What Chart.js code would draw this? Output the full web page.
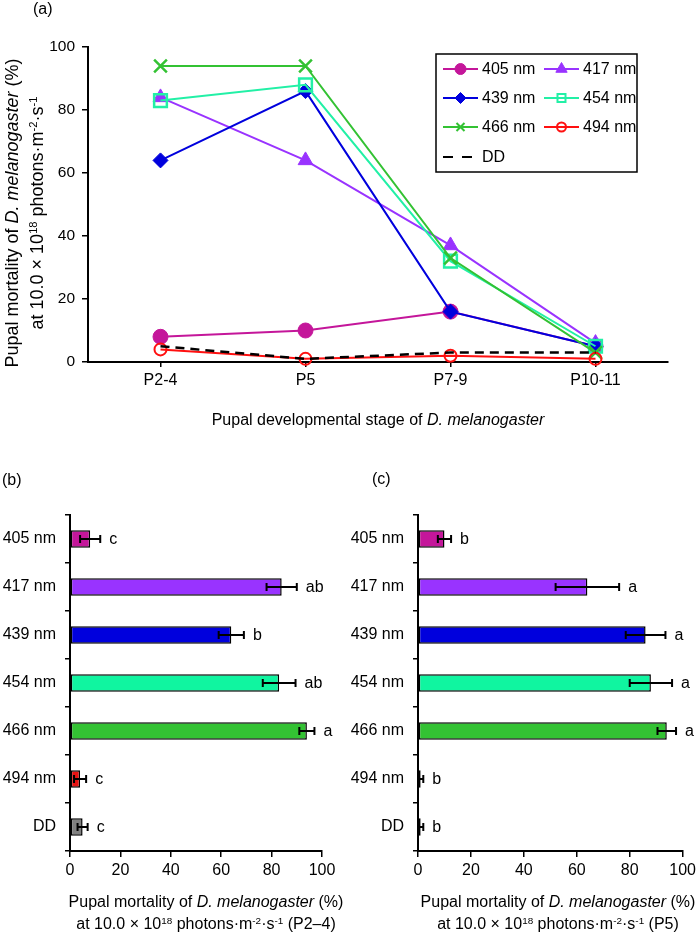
<!DOCTYPE html>
<html>
<head>
<meta charset="utf-8">
<script src="https://cdn.jsdelivr.net/npm/chart.js@4/dist/chart.umd.min.js"></script>
<style>
  body { margin: 0; background: #fff; font-family: 'Liberation Sans', Arial, sans-serif; color: #000; }
  #page { position: relative; width: 700px; height: 935px; overflow: hidden; }
  canvas { position: absolute; }
  .txt { position: absolute; font-size: 16px; line-height: 18px; white-space: nowrap; }
  .ttl { position: absolute; text-align: center; white-space: nowrap; font-size: 16px; }
  sup { font-size: 0.62em; line-height: 0; vertical-align: 0.5em; }
</style>
</head>
<body>
<div id="page">
  <canvas id="chartA" width="700" height="420" style="left:0;top:0"></canvas>
  <canvas id="chartB" width="350" height="515" style="left:0;top:420px"></canvas>
  <canvas id="chartC" width="350" height="515" style="left:350px;top:420px"></canvas>

  <div class="txt" style="left:33px;top:0">(a)</div>
  <div class="txt" style="left:2px;top:471px">(b)</div>
  <div class="txt" style="left:372px;top:470px">(c)</div>

  <div class="ttl" style="left:-135px;top:188px;width:320px;height:50px;font-size:18px;line-height:25px;transform:rotate(-90deg)">
    Pupal mortality of <i>D. melanogaster</i> (%)<br>at 10.0 × 10<sup>18</sup> photons·m<sup>-2</sup>·s<sup>-1</sup>
  </div>
  <div class="ttl" style="left:78px;top:410px;width:600px;line-height:20px">
    Pupal developmental stage of <i>D. melanogaster</i>
  </div>
  <div class="ttl" style="left:36px;top:891px;width:340px;line-height:22px">
    Pupal mortality of <i>D. melanogaster</i> (%)<br>at 10.0 × 10<sup>18</sup> photons·m<sup>-2</sup>·s<sup>-1</sup> (P2–4)
  </div>
  <div class="ttl" style="left:388px;top:891px;width:340px;line-height:22px">
    Pupal mortality of <i>D. melanogaster</i> (%)<br>at 10.0 × 10<sup>18</sup> photons·m<sup>-2</sup>·s<sup>-1</sup> (P5)
  </div>
</div>

<script>
// ---- data ----
const stages = ['P2-4', 'P5', 'P7-9', 'P10-11'];
const mort405 = [8, 10, 16, 5];
const mort417 = [84, 64, 37, 6];
const mort439 = [64, 86, 16, 5];
const mort454 = [83, 88, 32, 5];
const mort466 = [94, 94, 33, 3];
const mort494 = [4, 1, 2, 1];
const mortDD = [5, 1, 3, 3];

const treatments = ['405 nm', '417 nm', '439 nm', '454 nm', '466 nm', '494 nm', 'DD'];
const mortP24 = [8, 84, 64, 83, 94, 4, 5];
const errP24 = [4, 6, 5, 6.5, 3, 2.4, 2];
const lettersP24 = ['c', 'ab', 'b', 'ab', 'a', 'c', 'c'];
const mortP5 = [10, 64, 86, 88, 94, 1, 1];
const errP5 = [2.5, 12, 7.5, 8, 3.5, 1, 1];
const lettersP5 = ['b', 'a', 'a', 'a', 'a', 'b', 'b'];

// colours
const C405 = '#C4169A';
const C417 = '#9933FF';
const C439 = '#0000DD';
const C454 = '#22F0A6';
const C466 = '#33C233';
const C494 = '#FF1010';
const barColors = [C405, C417, C439, '#10F5A0', C466, '#E81212', '#808080'];

Chart.defaults.font.family = "'Liberation Sans', Arial, sans-serif";
Chart.defaults.font.size = 16;
Chart.defaults.color = '#000';

// simple marker drawer for the legend box
function drawMarker(ctx, style, x, y, r, fill, stroke, lw) {
    ctx.save();
    ctx.beginPath();
    ctx.lineWidth = lw;
    ctx.strokeStyle = stroke;
    ctx.fillStyle = fill;
    if (style === 'circle') {
        ctx.arc(x, y, r, 0, Math.PI * 2);
    } else if (style === 'triangle') {
        ctx.moveTo(x, y - r);
        ctx.lineTo(x + r * 0.87, y + r * 0.5);
        ctx.lineTo(x - r * 0.87, y + r * 0.5);
        ctx.closePath();
    } else if (style === 'rectRot') {
        ctx.moveTo(x, y - r);
        ctx.lineTo(x + r, y);
        ctx.lineTo(x, y + r);
        ctx.lineTo(x - r, y);
        ctx.closePath();
    } else if (style === 'rect') {
        ctx.rect(x - r, y - r, 2 * r, 2 * r);
    } else if (style === 'crossRot') {
        ctx.moveTo(x - r, y - r); ctx.lineTo(x + r, y + r);
        ctx.moveTo(x + r, y - r); ctx.lineTo(x - r, y + r);
    }
    if (fill) ctx.fill();
    ctx.stroke();
    ctx.restore();
}

const boxLegend = {
    id: 'boxLegend',
    afterDraw(chart) {
        const ctx = chart.ctx;
        ctx.save();
        ctx.lineWidth = 1.5;
        ctx.strokeStyle = '#000';
        ctx.strokeRect(436, 54, 201, 118);
        ctx.font = "16px 'Liberation Sans', Arial, sans-serif";
        ctx.fillStyle = '#000';
        ctx.textBaseline = 'middle';
        const legendMarks = [
            ['circle', 5.5, true, 1], ['triangle', 6.5, true, 1],
            ['rectRot', 5.5, true, 1], ['rect', 4, false, 2],
            ['crossRot', 4, false, 2], ['circle', 4.5, false, 2]
        ];
        const rows = [69, 98, 127, 157];
        chart.data.datasets.forEach((ds, i) => {
            const col = i === 6 ? 0 : i % 2;
            const row = i === 6 ? 3 : Math.floor(i / 2);
            const x0 = col === 0 ? 443 : 544;
            const y = rows[row];
            ctx.save();
            ctx.strokeStyle = ds.borderColor;
            ctx.lineWidth = 2;
            if (ds.borderDash) ctx.setLineDash([10, 9]);
            ctx.beginPath();
            ctx.moveTo(x0, y);
            ctx.lineTo(x0 + 35, y);
            ctx.stroke();
            ctx.restore();
            if (legendMarks[i]) {
                const m = legendMarks[i];
                drawMarker(ctx, m[0], x0 + 17.5, y, m[1], m[2] ? ds.borderColor : null, ds.borderColor, m[3]);
            }
            ctx.fillStyle = '#000';
            ctx.fillText(ds.label, x0 + (i === 6 ? 39 : 39), y + 1);
        });
        ctx.restore();
    }
};

function lineSet(label, data, color, style, radius, hollow, pbw) {
    return {
        label: label,
        data: data,
        borderColor: color,
        backgroundColor: hollow ? 'rgba(0,0,0,0)' : color,
        borderWidth: 2,
        pointStyle: style,
        pointRadius: radius,
        pointBorderWidth: pbw,
        pointBorderColor: color,
        pointBackgroundColor: hollow ? 'rgba(0,0,0,0)' : color,
        tension: 0,
        clip: false
    };
}

const datasetsA = [
    lineSet('405 nm', mort405, C405, 'circle', 7.5, false, 1),
    lineSet('417 nm', mort417, C417, 'triangle', 8.5, false, 1),
    lineSet('439 nm', mort439, C439, 'rectRot', 7.5, false, 1),
    lineSet('454 nm', mort454, C454, 'rect', 9, true, 2.5),
    lineSet('466 nm', mort466, C466, 'crossRot', 9, true, 2.5),
    lineSet('494 nm', mort494, C494, 'circle', 6, true, 2),
    Object.assign(lineSet('DD', mortDD, '#000', 'circle', 0, true, 0), { borderDash: [9, 6], borderWidth: 2.5 })
];
// later series drawn on top, like the original
datasetsA.forEach((ds, i) => { ds.order = datasetsA.length - i; });

new Chart(document.getElementById('chartA'), {
    type: 'line',
    data: { labels: stages, datasets: datasetsA },
    options: {
        responsive: false,
        animation: false,
        layout: { padding: { top: 47, right: 32, left: 0, bottom: 0 } },
        plugins: { legend: { display: false }, tooltip: { enabled: false } },
        scales: {
            x: {
                offset: true,
                grid: { offset: false, drawOnChartArea: false, color: '#000', lineWidth: 1.5, tickLength: 5 },
                border: { color: '#000', width: 2 },
                ticks: { padding: 4, font: { size: 16 } },
                afterFit(scale) { scale.height = 58; }
            },
            y: {
                min: 0, max: 100,
                grid: { drawOnChartArea: false, color: '#000', lineWidth: 1.5, tickLength: 6 },
                border: { color: '#000', width: 2 },
                ticks: { stepSize: 20, padding: 7, font: { size: 15.5 } },
                afterFit(scale) { scale.width = 88; }
            }
        }
    },
    plugins: [boxLegend]
});

function makeErrorBars(errors, letters) {
    return {
        id: 'errorBars',
        afterDatasetsDraw(chart) {
            const ctx = chart.ctx;
            const xs = chart.scales.x;
            const values = chart.data.datasets[0].data;
            const meta = chart.getDatasetMeta(0);
            ctx.save();
            ctx.strokeStyle = '#000';
            ctx.lineWidth = 2;
            ctx.font = "16px 'Liberation Sans', Arial, sans-serif";
            ctx.fillStyle = '#000';
            ctx.textBaseline = 'middle';
            meta.data.forEach((bar, i) => {
                const v = values[i];
                const e = errors[i];
                const xl = xs.getPixelForValue(Math.max(v - e, 0));
                const xr = xs.getPixelForValue(v + e);
                const y = bar.y;
                ctx.beginPath();
                ctx.moveTo(xl, y); ctx.lineTo(xr, y);
                ctx.moveTo(xl, y - 4); ctx.lineTo(xl, y + 4);
                ctx.moveTo(xr, y - 4); ctx.lineTo(xr, y + 4);
                ctx.stroke();
                ctx.fillText(letters[i], Math.max(xr, bar.x) + 9, y + 1);
            });
            ctx.restore();
        }
    };
}

function barChart(id, values, errors, letters, yWidth, padRight) {
    new Chart(document.getElementById(id), {
        type: 'bar',
        data: {
            labels: treatments,
            datasets: [{
                data: values,
                backgroundColor: barColors,
                borderColor: '#000',
                borderWidth: 1.5,
                borderSkipped: false,
                barPercentage: 0.36,
                categoryPercentage: 1
            }]
        },
        options: {
            indexAxis: 'y',
            responsive: false,
            animation: false,
            layout: { padding: { top: 95, right: padRight, left: 0, bottom: 0 } },
            plugins: { legend: { display: false }, tooltip: { enabled: false } },
            scales: {
                x: {
                    min: 0, max: 100,
                    grid: { drawOnChartArea: false, color: '#000', lineWidth: 1.5, tickLength: 6 },
                    border: { color: '#000', width: 2 },
                    ticks: { stepSize: 20, padding: 4, font: { size: 16 } },
                    afterFit(scale) { scale.height = 84; }
                },
                y: {
                    grid: { offset: true, drawOnChartArea: false, color: '#000', lineWidth: 1.5, tickLength: 5 },
                    border: { color: '#000', width: 2 },
                    ticks: { padding: 9, font: { size: 16 } },
                    afterFit(scale) { scale.width = yWidth; }
                }
            }
        },
        plugins: [makeErrorBars(errors, letters)]
    });
}

barChart('chartB', mortP24, errP24, lettersP24, 70, 28);
barChart('chartC', mortP5, errP5, lettersP5, 68, 16);
</script>
</body>
</html>
